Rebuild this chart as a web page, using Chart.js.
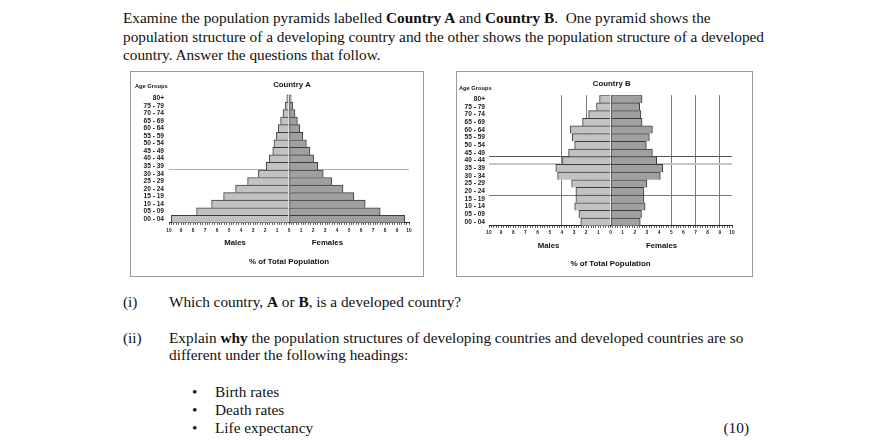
<!DOCTYPE html>
<html>
<head>
<meta charset="utf-8">
<script src="https://cdn.jsdelivr.net/npm/chart.js@4.4.1/dist/chart.umd.min.js"></script>
<style>
  html, body { margin: 0; padding: 0; background: #fff; }
  body { width: 892px; height: 443px; position: relative; overflow: hidden;
         font-family: "Liberation Serif", "Times New Roman", serif; font-size: 15.3px; color: #111; }
  .ln { position: absolute; white-space: nowrap; line-height: 18px; height: 18px; }
  .box { position: absolute; }
  .box canvas { position: absolute; left: 0; top: 0; }
  .frame { position: absolute; left: 0; top: 0; right: 0; bottom: 0; border: 1px solid #9a9a9a; pointer-events: none; }
</style>
</head>
<body>
<div class="ln" style="left:123px; top:9px;">Examine the population pyramids labelled <b>Country A</b> and <b>Country B</b>.&nbsp; One pyramid shows the</div>
<div class="ln" style="left:123px; top:27.5px;">population structure of a developing country and the other shows the population structure of a developed</div>
<div class="ln" style="left:123px; top:46px;">country. Answer the questions that follow.</div>

<div class="box" style="left:130px; top:71px; width:294px; height:206px;">
  <canvas id="chartA" width="294" height="206"></canvas><div class="frame"></div>
</div>
<div class="box" style="left:456px; top:71px; width:297px; height:206px;">
  <canvas id="chartB" width="297" height="206"></canvas><div class="frame"></div>
</div>

<div class="ln" style="left:123px; top:293px;">(i)</div>
<div class="ln" style="left:169px; top:293px;">Which country, <b>A</b> or <b>B</b>, is a developed country?</div>
<div class="ln" style="left:123px; top:329px;">(ii)</div>
<div class="ln" style="left:169px; top:329px;">Explain <b>why</b> the population structures of developing countries and developed countries are so</div>
<div class="ln" style="left:169px; top:346px;">different under the following headings:</div>
<div class="ln" style="left:192px; top:383px;">•</div>
<div class="ln" style="left:215px; top:383px;">Birth rates</div>
<div class="ln" style="left:192px; top:401px;">•</div>
<div class="ln" style="left:215px; top:401px;">Death rates</div>
<div class="ln" style="left:192px; top:419px;">•</div>
<div class="ln" style="left:215px; top:419px;">Life expectancy</div>
<div class="ln" style="right:143px; top:419px;">(10)</div>

<script>
// ---------- data ----------
const ageGroups = ['80+','75 - 79','70 - 74','65 - 69','60 - 64','55 - 59','50 - 54','45 - 49','40 - 44',
                   '35 - 39','30 - 34','25 - 29','20 - 24','15 - 19','10 - 14','05 - 09','00 - 04'];
const countryAMales   = [0.18, 0.3, 0.5, 0.7, 0.9, 1.05, 1.25, 1.35, 1.65, 1.9, 2.55, 3.45, 4.45, 5.45, 6.45, 7.7, 9.8];
const countryAFemales = [0.18, 0.3, 0.5, 0.7, 0.9, 1.15, 1.45, 1.75, 2.05, 2.4, 2.85, 3.55, 4.5, 5.4, 6.35, 7.6, 9.65];
const countryBMales   = [0.9, 1.15, 1.8, 2.3, 3.3, 3.15, 2.95, 3.45, 3.95, 4.5, 4.35, 3.2, 2.85, 2.85, 2.95, 2.6, 2.45];
const countryBFemales = [2.6, 2.4, 2.5, 2.6, 3.45, 3.2, 2.95, 3.45, 3.8, 4.3, 4.1, 3.0, 2.75, 2.75, 2.85, 2.55, 2.45];
const xMin = -10, xMax = 10, xMinorStep = 0.2;
const axisTitle = '% of Total Population';
const sideLabels = ['Males', 'Females'];

// ---------- helpers ----------
const textPlugin = {
  id: 'pyramidText',
  afterDraw(chart, args, o) {
    const ctx = chart.ctx, x = chart.scales.x;
    ctx.save();
    ctx.fillStyle = '#111';
    ctx.textBaseline = 'middle';
    ctx.textAlign = 'center';
    ctx.font = 'bold 7.8px "Liberation Sans", Arial, sans-serif';
    ctx.fillText(o.title, x.getPixelForValue(o.titleAt), o.titleY);
    ctx.fillText(sideLabels[0], x.getPixelForValue(o.malesAt), o.sideY);
    ctx.fillText(sideLabels[1], x.getPixelForValue(o.femalesAt), o.sideY);
    ctx.textAlign = 'left';
    ctx.font = 'bold 5.7px "Liberation Sans", Arial, sans-serif';
    ctx.fillText('Age Groups', o.ageX, o.ageY);
    ctx.restore();
  }
};

function makePyramid(id, males, females, cfg) {
  return new Chart(document.getElementById(id), {
    type: 'bar',
    data: {
      labels: ageGroups,
      datasets: [
        { label: 'Males', data: males.map(v => -v), backgroundColor: '#c2c2c2', borderColor: '#3c3c3c',
          borderWidth: {top: 1, left: 1, right: 0, bottom: 0}, borderSkipped: false,
          barPercentage: 1, categoryPercentage: 1 },
        { label: 'Females', data: females, backgroundColor: '#a0a0a0', borderColor: '#3c3c3c',
          borderWidth: {top: 1, left: 1, right: 1, bottom: 0}, borderSkipped: false,
          barPercentage: 1, categoryPercentage: 1 }
      ]
    },
    options: {
      indexAxis: 'y',
      responsive: false,
      animation: false,
      events: [],
      layout: { padding: { top: cfg.top, right: cfg.right, left: 0, bottom: 0 } },
      plugins: {
        legend: { display: false },
        tooltip: { enabled: false },
        title: { display: false },
        pyramidText: cfg.text
      },
      scales: {
        x: {
          type: 'linear', stacked: true, min: xMin, max: xMax,
          afterFit(s) { s.height = cfg.xHeight; },
          border: { display: true, color: '#2a2a2a', width: 1 },
          grid: {
            drawOnChartArea: true,
            color: c => (c.tick && cfg.xGrid.some(v => Math.abs(c.tick.value - v) < 1e-6)) ? '#7a7a7a' : 'rgba(0,0,0,0)',
            lineWidth: 1,
            tickColor: '#555', tickLength: 2, tickWidth: 1
          },
          ticks: {
            stepSize: xMinorStep, autoSkip: false, maxRotation: 0, minRotation: 0,
            padding: cfg.tickPad, color: '#222',
            font: { family: '"Liberation Sans", Arial, sans-serif', size: 4.8, weight: 'bold' },
            callback: v => { const r = Math.round(v); return Math.abs(v - r) < 1e-6 ? String(Math.abs(r)) : ''; }
          },
          title: {
            display: true, text: axisTitle, color: '#111',
            font: { family: '"Liberation Sans", Arial, sans-serif', size: 7.9, weight: 'bold' },
            padding: { top: 0, bottom: cfg.titlePadBottom }
          }
        },
        y: {
          stacked: true,
          afterFit(s) { s.width = cfg.yWidth; },
          border: { display: false },
          grid: {
            drawTicks: false, offset: true,
            color: c => (cfg.yGrid[c.index] ? cfg.yGrid[c.index][0] : 'rgba(0,0,0,0)'),
            lineWidth: c => (cfg.yGrid[c.index] ? cfg.yGrid[c.index][1] : 1)
          },
          ticks: {
            autoSkip: false, padding: cfg.yPad, color: '#222',
            font: { family: '"Liberation Sans", Arial, sans-serif', size: 6.6, weight: 'bold' }
          }
        }
      }
    },
    plugins: [textPlugin]
  });
}

makePyramid('chartA', countryAMales, countryAFemales, {
  top: 23.5, right: 15, xHeight: 54.2, yWidth: 39, yPad: 5, tickPad: 3, titlePadBottom: 10.2,
  xGrid: [],
  yGrid: { 10: ['#b0b0b0', 1] },
  text: { title: 'Country A', titleAt: 0.25, titleY: 13.5, malesAt: -4.5, femalesAt: 3.2, sideY: 172, ageX: 5, ageY: 15 }
});
makePyramid('chartB', countryBMales, countryBFemales, {
  top: 24.2, right: 21, xHeight: 51.2, yWidth: 33, yPad: 4, tickPad: 1.5, titlePadBottom: 8.2,
  xGrid: [-4, -2, 5, 7, 9],
  yGrid: { 8: ['#555555', 1], 9: ['#c6c6c6', 2], 13: ['#7a7a7a', 1] },
  text: { title: 'Country B', titleAt: 0.1, titleY: 13, malesAt: -5.1, femalesAt: 4.2, sideY: 175, ageX: 3, ageY: 17 }
});
</script>
</body>
</html>
